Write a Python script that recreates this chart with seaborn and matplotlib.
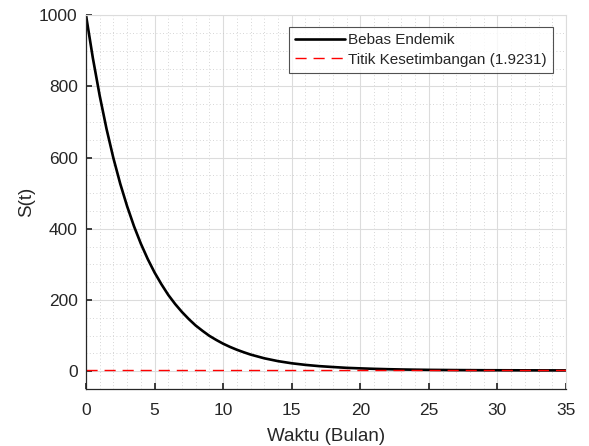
import matplotlib
matplotlib.use("Agg")
import matplotlib.pyplot as plt
from matplotlib.ticker import MultipleLocator
import seaborn as sns
import pandas as pd

# Data
t_months = [0, 0.5, 1, 1.5, 2, 2.5, 3, 3.5, 4, 4.5, 5, 5.5, 6, 6.5, 7, 7.5,
            8, 8.5, 9, 9.5, 10, 10.5, 11, 11.5, 12, 13, 14, 15, 16, 17, 18,
            19, 20, 21, 22, 23, 24, 25, 26, 27, 28, 29, 30, 31, 32, 33, 34, 35]
s_values = [1000, 879.6, 773.5, 680, 598, 526, 463, 407, 358, 315, 277, 244,
            214, 188.5, 166, 146, 128, 113, 99, 87.5, 77, 68, 60, 53, 46.5,
            36, 28, 22, 17.5, 14, 11.5, 9.2, 7.7, 6.4, 5.4, 4.6, 4.0, 3.5,
            3.2, 2.9, 2.7, 2.5, 2.4, 2.3, 2.2, 2.1, 2.05, 2.0]
equilibrium = 1.9231
x_ticks = [0, 5, 10, 15, 20, 25, 30, 35]
y_ticks = [0, 200, 400, 600, 800, 1000]

sns.set_theme(style="white")
plt.rcParams['font.family'] = ['Liberation Sans', 'DejaVu Sans']

df = pd.DataFrame({"t": t_months, "S": s_values})

fig = plt.figure(figsize=(5.89, 4.46), dpi=100)
ax = fig.add_axes([0.146, 0.128, 0.815, 0.838])

sns.lineplot(data=df, x="t", y="S", ax=ax, color="black", linewidth=1.9,
             label="Bebas Endemik")
ax.axhline(equilibrium, color="red", linestyle=(0, (8, 5)), linewidth=1,
           label=f"Titik Kesetimbangan ({equilibrium})")

ax.set_xlim(0, 35)
ax.set_ylim(-50, 1000)
ax.set_xticks(x_ticks)
ax.set_yticks(y_ticks)
ax.xaxis.set_minor_locator(MultipleLocator(1))
ax.yaxis.set_minor_locator(MultipleLocator(50))

ax.grid(which="major", color="#dcdcdc", linewidth=0.8, linestyle="-")
ax.grid(which="minor", color="#c8c8c8", linewidth=0.6, linestyle=(0, (1, 3)))
ax.set_axisbelow(True)

for side in ["top", "right"]:
    ax.spines[side].set_color("#dcdcdc")
    ax.spines[side].set_linewidth(0.8)
for side in ["left", "bottom"]:
    ax.spines[side].set_color("#262626")
    ax.spines[side].set_linewidth(0.9)

ax.tick_params(axis="both", which="major", direction="in", length=4,
               colors="#262626", labelsize=12.5, labelcolor="#262626",
               left=True, bottom=True)
ax.tick_params(axis="both", which="minor", length=0)
ax.tick_params(axis="x", pad=10)
ax.tick_params(axis="y", pad=6)

ax.set_xlabel("Waktu (Bulan)", fontsize=13.5, color="#262626", labelpad=7)
ax.set_ylabel("S(t)", fontsize=13.5, color="#262626", labelpad=3)

leg = ax.legend(loc="upper right", bbox_to_anchor=(0.973, 0.968), fontsize=11,
                frameon=True, fancybox=False, edgecolor="#262626",
                handlelength=3.3, handletextpad=0.2, borderpad=0.4,
                labelspacing=0.35, borderaxespad=0.0)
leg.get_frame().set_linewidth(0.8)

fig.savefig("out.png", dpi=100)
